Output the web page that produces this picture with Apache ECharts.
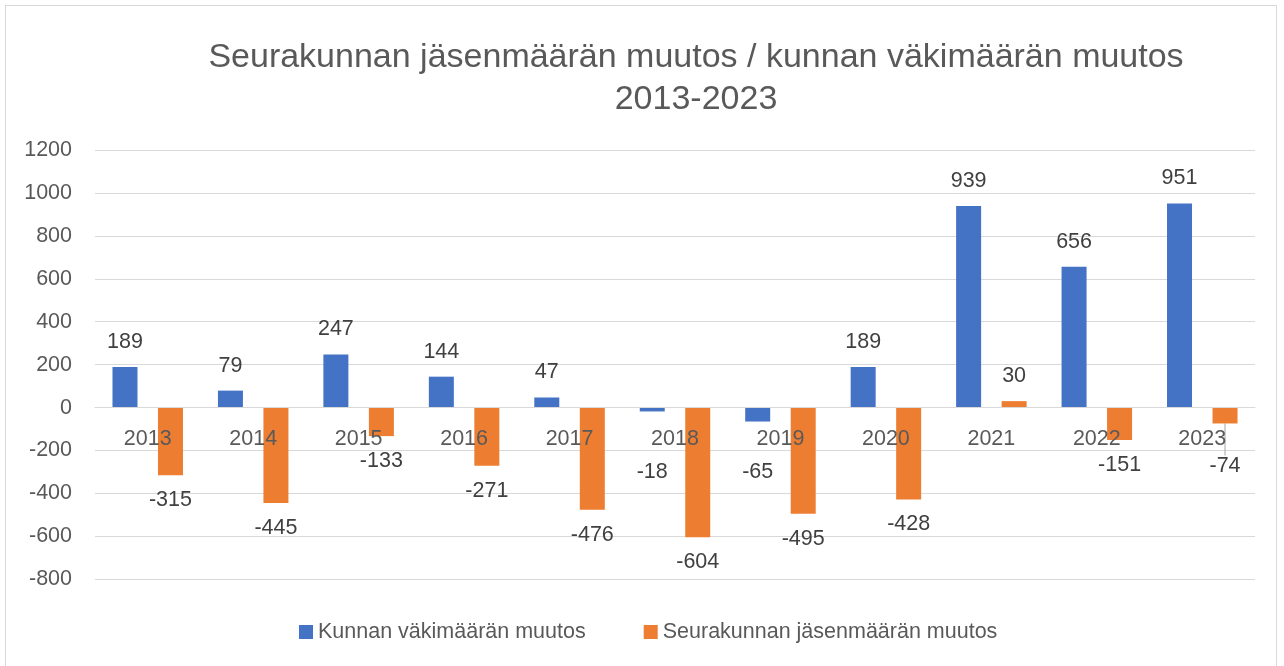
<!DOCTYPE html>
<html>
<head>
<meta charset="utf-8">
<script src="https://cdn.jsdelivr.net/npm/echarts@6/dist/echarts.min.js"></script>
<style>
  html, body { margin: 0; padding: 0; background: #ffffff; }
  #frame { position: absolute; left: 5px; top: 5px; width: 1272px; height: 680px; border: 1px solid #d9d9d9; box-sizing: border-box; }
  #chart { position: absolute; left: 0; top: 0; width: 1284px; height: 666px; }
</style>
</head>
<body>
<div id="frame"></div>
<div id="chart"></div>
<script>
const categories = ['2013', '2014', '2015', '2016', '2017', '2018', '2019', '2020', '2021', '2022', '2023'];
const kunnanMuutos = [189, 79, 247, 144, 47, -18, -65, 189, 939, 656, 951];
const seurakunnanMuutos = [-315, -445, -133, -271, -476, -604, -495, -428, 30, -151, -74];
const seriesNames = ['Kunnan väkimäärän muutos', 'Seurakunnan jäsenmäärän muutos'];
const titleText = 'Seurakunnan jäsenmäärän muutos / kunnan väkimäärän muutos\n2013-2023';

const FONT = 'Liberation Sans';
const TEXT = '#595959';
const FS = 21.5;

const chart = echarts.init(document.getElementById('chart'), null, { renderer: 'canvas' });

const labelBase = {
  show: true,
  position: 'outside',
  distance: 14,
  color: '#404040',
  fontFamily: FONT,
  fontSize: FS
};

// grid geometry: top 150, bottom edge at 579.3; zero line position derived for axis offset
const gridTop = 150, gridBottomY = 579.3, yMin = -800, yMax = 1200;
const zeroOffset = -(gridBottomY - (gridTop + (yMax - 0) / (yMax - yMin) * (gridBottomY - gridTop)));

const orangeData = seurakunnanMuutos.map(function (v, i) {
  return i === 10
    ? { value: v, labelLine: { show: true, lineStyle: { color: '#a6a6a6', width: 1 } } }
    : { value: v, labelLine: { show: false } };
});

chart.setOption({
  backgroundColor: 'transparent',
  animation: false,
  title: {
    text: titleText,
    left: 691,
    top: 32,
    textAlign: 'center',
    textStyle: { fontFamily: FONT, fontSize: 34, fontWeight: 'normal', color: TEXT, lineHeight: 42 }
  },
  legend: {
    data: seriesNames,
    left: 294,
    top: 616,
    itemWidth: 14,
    itemHeight: 14,
    itemGap: 58,
    icon: 'rect',
    textStyle: { fontFamily: FONT, fontSize: FS, color: TEXT, padding: [0, 0, 0, 0] }
  },
  grid: { left: 95, right: 29, top: gridTop, bottom: 666 - gridBottomY, containLabel: false },
  xAxis: {
    type: 'category',
    data: categories,
    offset: zeroOffset,
    z: 10,
    axisLine: { show: true, onZero: false, lineStyle: { color: '#d9d9d9', width: 1 } },
    axisTick: { show: false },
    axisLabel: { margin: 20, color: TEXT, fontFamily: FONT, fontSize: FS }
  },
  yAxis: {
    type: 'value',
    min: yMin,
    max: yMax,
    interval: 200,
    axisLine: { show: false },
    axisTick: { show: false },
    splitLine: { lineStyle: { color: '#d9d9d9', width: 1 } },
    axisLabel: { margin: 23, color: TEXT, fontFamily: FONT, fontSize: FS, formatter: function (v) { return String(v); } }
  },
  series: [
    {
      name: seriesNames[0],
      type: 'bar',
      data: kunnanMuutos,
      barWidth: 25,
      barGap: '82%',
      itemStyle: { color: '#4472C4' },
      label: labelBase,
      labelLayout: function (p) {
        if (p.dataIndex === 5) return { dy: 36 };
        if (p.dataIndex === 6) return { dy: 26 };
        return {};
      }
    },
    {
      name: seriesNames[1],
      type: 'bar',
      data: orangeData,
      barWidth: 25,
      itemStyle: { color: '#ED7D31' },
      label: labelBase,
      labelLayout: function (p) {
        if (p.dataIndex === 10) return { dy: 18 };
        return {};
      }
    }
  ]
});
</script>
</body>
</html>
